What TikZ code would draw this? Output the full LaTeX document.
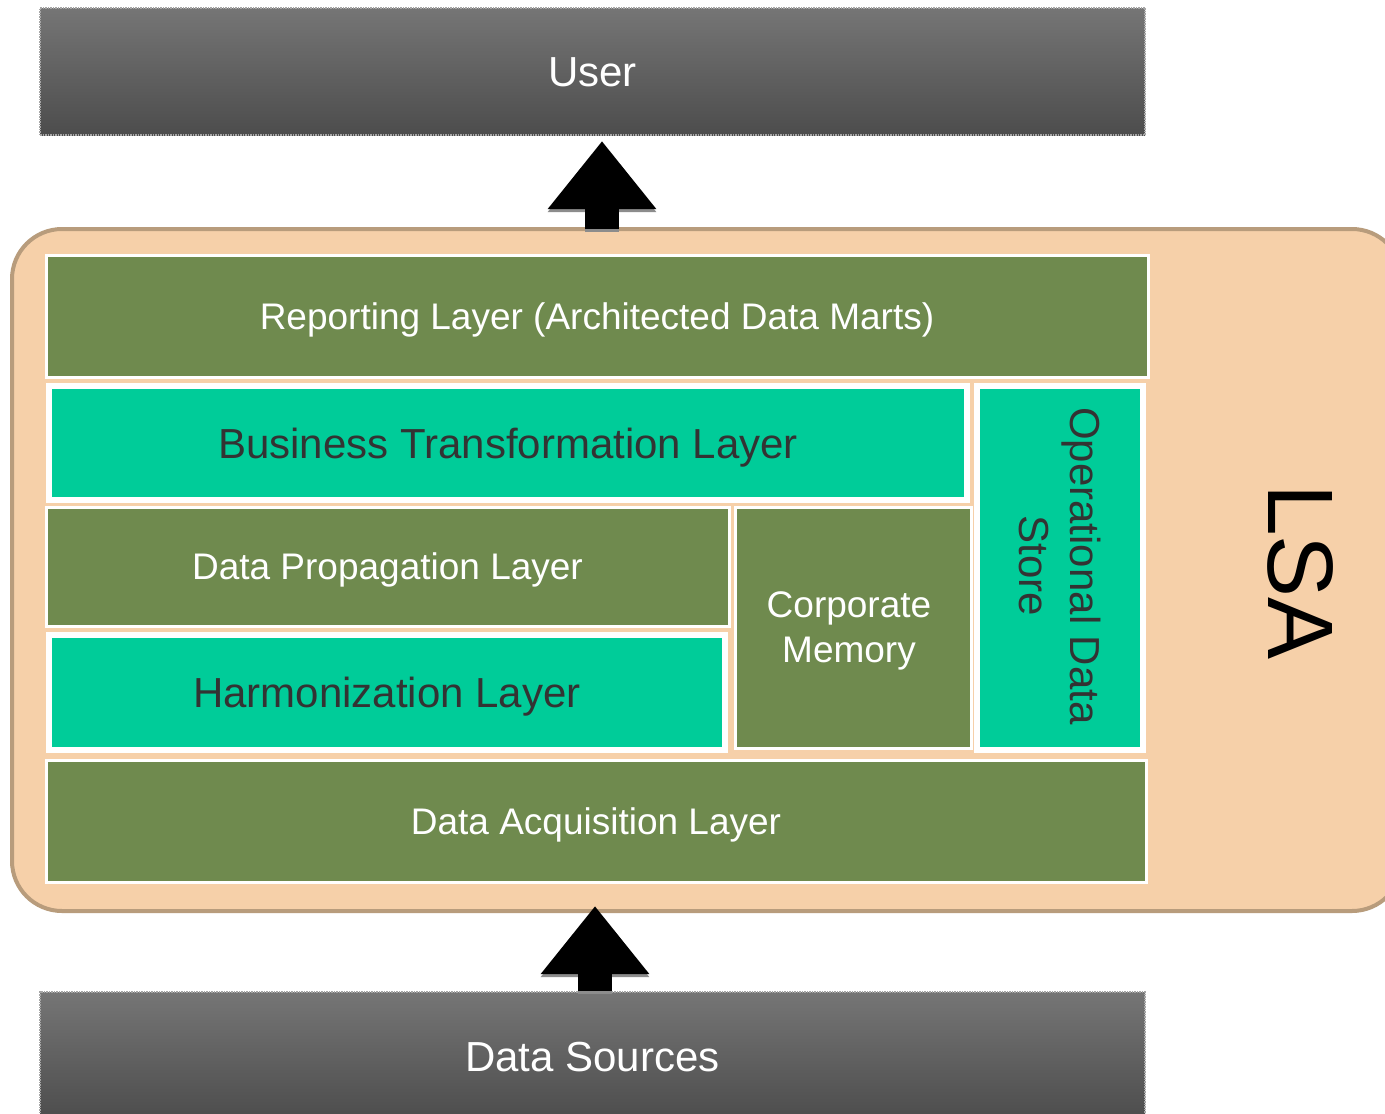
\documentclass[tikz,border=0pt]{standalone}
\usepackage{fontspec}
\setmainfont{Liberation Sans}
\usetikzlibrary{arrows.meta}
\definecolor{lgreen}{HTML}{6F8A4E}
\definecolor{lteal}{HTML}{00CC99}
\definecolor{lpeach}{HTML}{F6D0A9}
\definecolor{lbrown}{HTML}{B89C7C}
\definecolor{ltext}{HTML}{333333}
\tikzset{
  capcenter/.style={text height=#1, text depth=0pt},
  graybox/.style={rectangle, top color=black!54, bottom color=black!70, draw=black!35, densely dotted, line width=1.5pt, text=white, font=\fontsize{42}{50}\selectfont, inner sep=0pt, capcenter=30pt},
  greenbox/.style={rectangle, fill=lgreen, draw=white, line width=3pt, text=white, font=\fontsize{37}{44}\selectfont, inner sep=0pt, align=center},
  tealbox/.style={rectangle, fill=lteal, draw=white, line width=6pt, text=ltext, font=\fontsize{42}{50}\selectfont, inner sep=0pt, align=center},
  blockarrow/.style={line width=34pt, -{Triangle[length=68pt,width=104pt]}, draw=black},
}
\begin{document}
\begin{tikzpicture}[x=1pt,y=-1pt]
\clip (0,0) rectangle (1385,1114);
\fill[white] (0,0) rectangle (1385,1114);
% container
\node[rectangle, rounded corners=50pt, fill=lpeach, draw=lbrown, line width=4pt, minimum width=1390pt, minimum height=682pt, inner sep=0pt] (lsa) at (707,570) {};
\node[rotate=-90, font=\fontsize{93}{100}\selectfont, text=black, inner sep=0pt, capcenter=66.6pt] (lsatext) at (1302,572) {LSA};
% gray boxes
\node[graybox, minimum width=1105pt, minimum height=127pt] (user) at (592.5,71.5) {User};
\node[graybox, minimum width=1105pt, minimum height=128pt] (src) at (592.5,1056) {Data Sources};
% peach gaps
\fill[lpeach] (730,509) rectangle (733,627);
\fill[lpeach] (734,750) rectangle (969,755);
% layers
\node[greenbox, capcenter=26.5pt, minimum width=1102pt, minimum height=122pt] (rep) at (597,316) {Reporting Layer (Architected Data Marts)};
\node[tealbox, capcenter=30pt, minimum width=918pt, minimum height=114pt] (bus) at (508,443) {Business Transformation Layer};
\node[tealbox, minimum width=166pt, minimum height=364pt] (ods) at (1060,568) {};
\node[rotate=-90, font=\fontsize{42}{51}\selectfont, text=ltext, align=center] (odstext) at (1060,566) {Operational Data\\Store};
\node[greenbox, capcenter=26.5pt, minimum width=683pt, minimum height=119pt] (prop) at (387.5,566.5) {Data Propagation Layer};
\node[greenbox, minimum width=236pt, minimum height=241pt] (cm) at (853,627.5) {};
\node[font=\fontsize{37}{45}\selectfont, text=white, align=center] (cmtext) at (849,631) {Corporate\\Memory};
\node[tealbox, capcenter=30pt, minimum width=676pt, minimum height=115pt] (harm) at (387,692.5) {Harmonization Layer};
\node[greenbox, capcenter=26.5pt, minimum width=1100pt, minimum height=122pt] (acq) at (596,821) {Data Acquisition Layer};
% arrows
\coordinate (a1s) at (602,229);
\coordinate (a1e) at (602,141);
\coordinate (a2s) at (595,991);
\coordinate (a2e) at (595,906);
\draw[blockarrow, draw=black!45] ([yshift=-3pt]a1s) -- ([yshift=-3pt]a1e);
\draw[blockarrow] (a1s) -- (a1e);
\draw[blockarrow, draw=black!45] ([yshift=-3pt]a2s) -- ([yshift=-3pt]a2e);
\draw[blockarrow] (a2s) -- (a2e);
\end{tikzpicture}
\end{document}
